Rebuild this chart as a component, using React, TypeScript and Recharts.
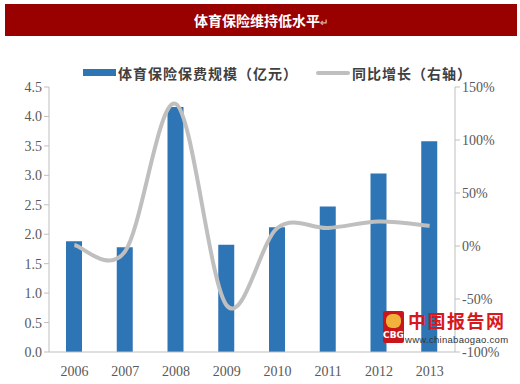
import React from "react";
import { ComposedChart, Bar, Line, XAxis, YAxis } from "recharts";

const years = ["2006", "2007", "2008", "2009", "2010", "2011", "2012", "2013"];
const premium = [1.88, 1.78, 4.16, 1.82, 2.12, 2.47, 3.03, 3.58];
const growth = [1, -5, 134, -56, 17, 17, 23, 19];
const leftTicks = [0, 0.5, 1, 1.5, 2, 2.5, 3, 3.5, 4, 4.5];
const rightTicks = [-100, -50, 0, 50, 100, 150];

const data = years.map((y, i) => ({ year: y, premium: premium[i], growth: growth[i] }));

// Excel-like smoothed line (Catmull-Rom style Bezier)
function excelCurve(context: any) {
  let pts: [number, number][] = [];
  return {
    areaStart() {},
    areaEnd() {},
    lineStart() {
      pts = [];
    },
    point(x: number, y: number) {
      pts.push([+x, +y]);
    },
    lineEnd() {
      const n = pts.length;
      if (!n) return;
      context.moveTo(pts[0][0], pts[0][1]);
      for (let i = 0; i < n - 1; i++) {
        const p0 = pts[Math.max(0, i - 1)];
        const p1 = pts[i];
        const p2 = pts[i + 1];
        const p3 = pts[Math.min(n - 1, i + 2)];
        const c1x = p1[0] + (p2[0] - p0[0]) / 6;
        const c1y = p1[1] + (p2[1] - p0[1]) / 6;
        const c2x = p2[0] - (p3[0] - p1[0]) / 6;
        const c2y = p2[1] - (p3[1] - p1[1]) / 6;
        context.bezierCurveTo(c1x, c1y, c2x, c2y, p2[0], p2[1]);
      }
    },
  };
}

const tickStyle = { fill: "#595959", fontSize: 14, fontFamily: "Liberation Serif" };
const cjk = "'Noto Sans CJK SC', sans-serif";

export default function App() {
  return (
    <div style={{ position: "absolute", left: 0, top: 0, width: 520, height: 384, background: "#fff" }}>
      <div
        style={{
          position: "absolute",
          left: 5,
          top: 4,
          width: 512,
          height: 32,
          background: "#990000",
          color: "#fff",
          fontFamily: cjk,
          fontWeight: 700,
          fontSize: 14,
          lineHeight: "32px",
          textAlign: "center",
        }}
      >
        体育保险维持低水平<span style={{ color: "#d9a0a0", fontSize: 10 }}>↵</span>
      </div>
      <div
        style={{
          position: "absolute",
          left: 0,
          top: 64,
          width: 520,
          height: 20,
          fontFamily: cjk,
          fontWeight: 700,
          fontSize: 14,
          color: "#404040",
        }}
      >
        <div style={{ position: "absolute", left: 83, top: 5, width: 33, height: 7, background: "#2E75B6" }} />
        <div style={{ position: "absolute", left: 118, top: 0, lineHeight: "18px", letterSpacing: 1 }}>
          体育保险保费规模（亿元）
        </div>
        <div style={{ position: "absolute", left: 316, top: 7, width: 34, height: 4, background: "#BFBFBF", borderRadius: 2 }} />
        <div style={{ position: "absolute", left: 352, top: 0, lineHeight: "18px", letterSpacing: 1 }}>
          同比增长（右轴）
        </div>
      </div>
      <ComposedChart
        width={520}
        height={384}
        data={data}
        margin={{ top: 87, right: 0, bottom: 0, left: 0 }}
        barCategoryGap="35%"
      >
        <XAxis
          dataKey="year"
          height={32}
          tickLine={false}
          axisLine={{ stroke: "#BFBFBF" }}
          tick={tickStyle}
          tickMargin={8}
        />
        <YAxis
          yAxisId="left"
          orientation="left"
          width={49}
          domain={[0, 4.5]}
          ticks={leftTicks}
          interval={0}
          tickFormatter={(v: number) => v.toFixed(1)}
          axisLine={{ stroke: "#BFBFBF" }}
          tickLine={{ stroke: "#BFBFBF" }}
          tickSize={5}
          tick={tickStyle}
        />
        <YAxis
          yAxisId="right"
          orientation="right"
          width={65}
          domain={[-100, 150]}
          ticks={rightTicks}
          interval={0}
          tickFormatter={(v: number) => `${v}%`}
          axisLine={{ stroke: "#BFBFBF" }}
          tickLine={{ stroke: "#BFBFBF" }}
          tickSize={5}
          tick={tickStyle}
        />
        <Bar yAxisId="left" dataKey="premium" fill="#2E75B6" barSize={16} isAnimationActive={false} />
        <Line
          yAxisId="right"
          dataKey="growth"
          type={excelCurve as any}
          stroke="#BFBFBF"
          strokeWidth={4}
          dot={false}
          activeDot={false}
          isAnimationActive={false}
        />
      </ComposedChart>
      <div style={{ position: "absolute", left: 383, top: 311, width: 21, height: 32, background: "#c8161d", borderRadius: 2 }}>
        <div style={{ position: "absolute", left: 3, top: 3, width: 15, height: 14, background: "#f2b13b", borderRadius: 6 }} />
        <div
          style={{
            position: "absolute",
            left: 0,
            top: 19,
            width: 21,
            textAlign: "center",
            color: "#fff",
            fontSize: 9,
            fontWeight: 700,
            fontFamily: "DejaVu Sans",
            lineHeight: "11px",
          }}
        >
          CBG
        </div>
      </div>
      <div
        style={{
          position: "absolute",
          left: 408,
          top: 311,
          color: "#d7191e",
          fontFamily: cjk,
          fontWeight: 700,
          fontSize: 18,
          lineHeight: "18px",
          letterSpacing: 1.5,
        }}
      >
        中国报告网
      </div>
      <div
        style={{
          position: "absolute",
          left: 405,
          top: 334,
          color: "#333",
          fontFamily: "Liberation Sans",
          fontSize: 9.5,
          lineHeight: "11px",
          letterSpacing: 0.3,
        }}
      >
        www.chinabaogao.com
      </div>
    </div>
  );
}
